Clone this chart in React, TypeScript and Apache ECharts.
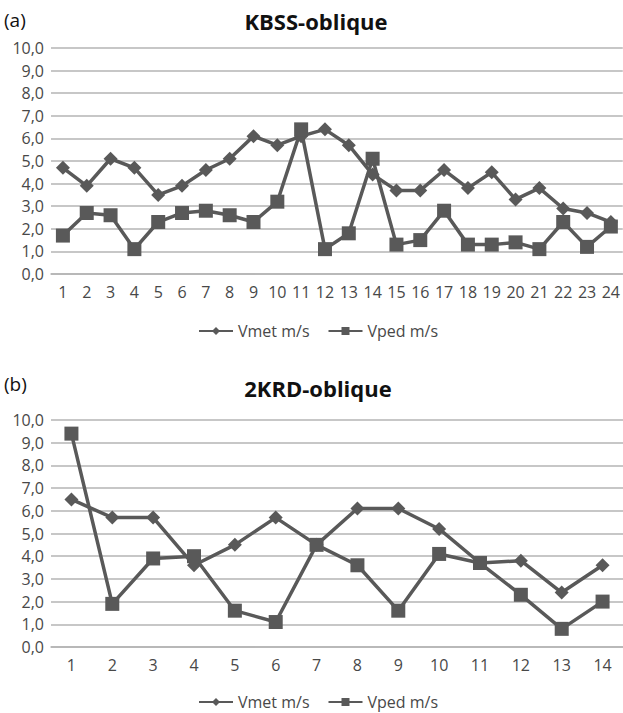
import React, { useEffect, useRef } from "react";
import * as echarts from "echarts";

// Panel (a): KBSS-oblique, 24 measurements
const kbssCategories = Array.from({ length: 24 }, (_, i) => String(i + 1));
const kbssVmet = [4.7, 3.9, 5.1, 4.7, 3.5, 3.9, 4.6, 5.1, 6.1, 5.7, 6.1, 6.4, 5.7, 4.4, 3.7, 3.7, 4.6, 3.8, 4.5, 3.3, 3.8, 2.9, 2.7, 2.3];
const kbssVped = [1.7, 2.7, 2.6, 1.1, 2.3, 2.7, 2.8, 2.6, 2.3, 3.2, 6.4, 1.1, 1.8, 5.1, 1.3, 1.5, 2.8, 1.3, 1.3, 1.4, 1.1, 2.3, 1.2, 2.1];

// Panel (b): 2KRD-oblique, 14 measurements
const krdCategories = Array.from({ length: 14 }, (_, i) => String(i + 1));
const krdVmet = [6.5, 5.7, 5.7, 3.6, 4.5, 5.7, 4.5, 6.1, 6.1, 5.2, 3.7, 3.8, 2.4, 3.6];
const krdVped = [9.4, 1.9, 3.9, 4.0, 1.6, 1.1, 4.5, 3.6, 1.6, 4.1, 3.7, 2.3, 0.8, 2.0];

const seriesNames = ["Vmet m/s", "Vped m/s"];

const FONT = "'Open Sans', 'Liberation Sans', sans-serif";
const INK = "#484848";
const GRID_LINE = "#b4b4b4";

export default function App() {
  const ref = useRef<HTMLDivElement>(null);

  useEffect(() => {
    if (!ref.current) return;
    const chart = echarts.init(ref.current, null, { renderer: "svg" });

    const xAxisFor = (gridIndex: number, data: string[]) => ({
      type: "category" as const,
      gridIndex,
      data,
      boundaryGap: true,
      axisLine: { show: true, lineStyle: { color: GRID_LINE, width: 1.5 } },
      axisTick: { show: false },
      axisLabel: { color: INK, fontSize: 16, fontFamily: FONT, margin: 10, interval: 0 },
    });

    const yAxisFor = (gridIndex: number) => ({
      type: "value" as const,
      gridIndex,
      min: 0,
      max: 10,
      interval: 1,
      axisLine: { show: false },
      axisTick: { show: false },
      splitLine: { lineStyle: { color: GRID_LINE, width: 1.5 } },
      axisLabel: {
        color: INK,
        fontSize: 16,
        fontFamily: FONT,
        margin: 7,
        formatter: (v: number) => v.toFixed(1).replace(".", ","),
      },
    });

    const lineSeries = (name: string, symbol: string, size: number, data: number[], idx: number) => ({
      name,
      type: "line" as const,
      xAxisIndex: idx,
      yAxisIndex: idx,
      data,
      symbol,
      symbolSize: size,
      showAllSymbol: true,
      lineStyle: { color: "#595959", width: 3.5 },
      itemStyle: { color: "#595959" },
      z: 3,
    });

    // Legend rows sit centred on y = top + 8 (no padding)
    const legendFor = (top: number) => ({
      data: seriesNames,
      left: 198,
      top,
      padding: 0,
      itemWidth: 34,
      itemHeight: 10,
      itemGap: 18,
      selectedMode: false,
      textStyle: { color: INK, fontSize: 16, lineHeight: 16, fontFamily: FONT },
    });

    const textEl = (text: string, x: number, y: number, size: number, bold: boolean, align: string) => ({
      type: "text",
      x,
      y,
      style: {
        text,
        fill: "#111111",
        font: `${bold ? "bold " : ""}${size}px ${FONT}`,
        textAlign: align,
        textVerticalAlign: "middle",
      },
    });

    chart.setOption({
      animation: false,
      backgroundColor: "#ffffff",
      graphic: [
        textEl("(a)", 4, 20, 19, false, "left"),
        textEl("KBSS-oblique", 316, 21, 22, true, "center"),
        textEl("(b)", 4, 384, 19, false, "left"),
        textEl("2KRD-oblique", 318, 388, 22, true, "center"),
      ],
      legend: [legendFor(323), legendFor(694)],
      grid: [
        { left: 51, top: 48, width: 572, height: 226 },
        { left: 51, top: 420, width: 572, height: 227 },
      ],
      xAxis: [xAxisFor(0, kbssCategories), xAxisFor(1, krdCategories)],
      yAxis: [yAxisFor(0), yAxisFor(1)],
      series: [
        lineSeries(seriesNames[0], "diamond", 14, kbssVmet, 0),
        lineSeries(seriesNames[1], "rect", 14, kbssVped, 0),
        lineSeries(seriesNames[0], "diamond", 14, krdVmet, 1),
        lineSeries(seriesNames[1], "rect", 14, krdVped, 1),
      ],
    });

    return () => chart.dispose();
  }, []);

  return (
    <div
      ref={ref}
      style={{ position: "absolute", left: 0, top: 0, width: 623, height: 713 }}
    />
  );
}
